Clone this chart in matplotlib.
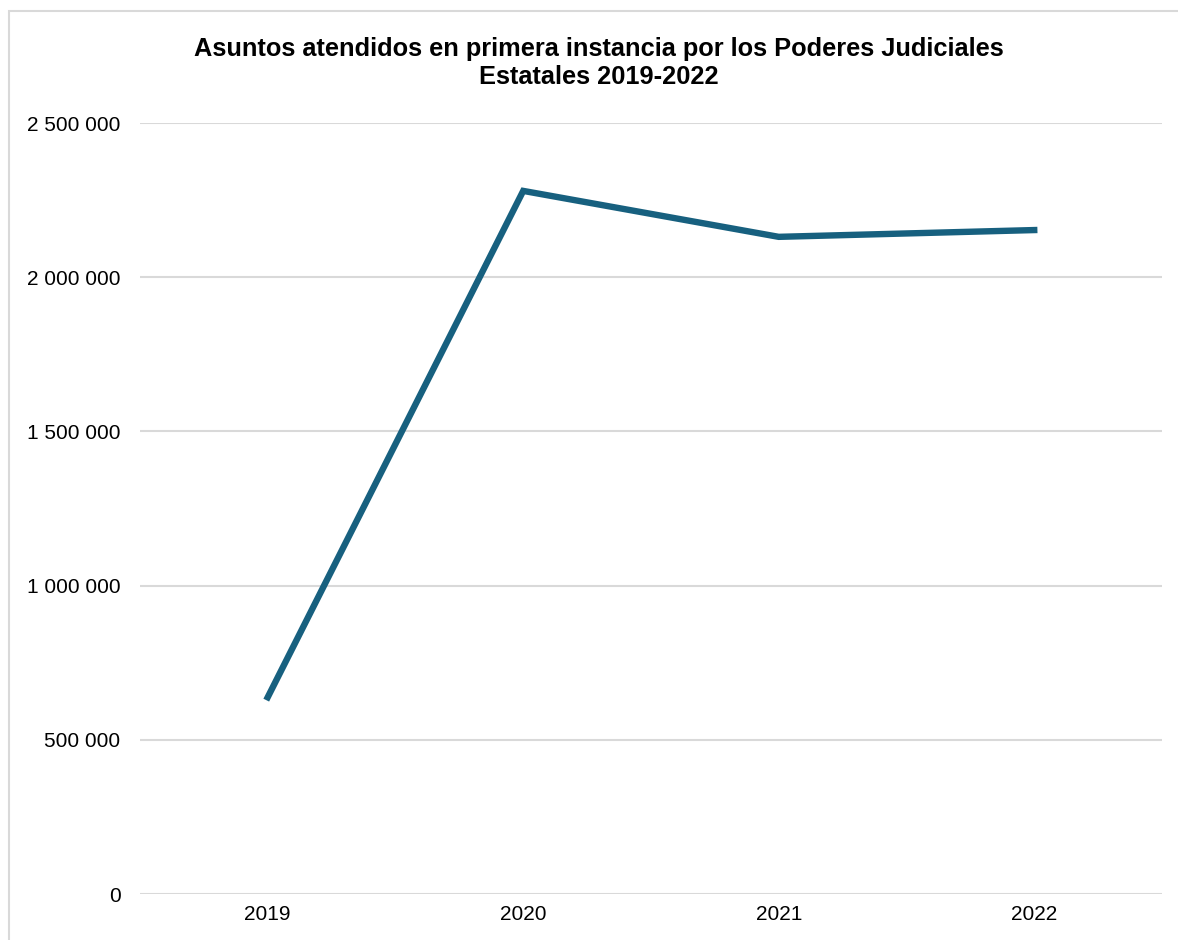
import matplotlib.pyplot as plt
from matplotlib.patches import Rectangle
from matplotlib.ticker import FuncFormatter

plt.rcParams['font.family'] = ['Liberation Sans', 'DejaVu Sans']

years = ['2019', '2020', '2021', '2022']
asuntos = [638000, 2280000, 2131000, 2153000]
yticks = [0, 500000, 1000000, 1500000, 2000000, 2500000]

fig = plt.figure(figsize=(11.78, 9.4), dpi=100)
ax = fig.add_axes([0.1188, 0.0489, 0.8676, 0.8202])

ax.plot(range(len(years)), asuntos, color='#17607f', lw=4.6,
        solid_joinstyle='miter', zorder=3)

ax.set_xlim(-0.5, 3.5)
ax.set_ylim(0, 2500000)
ax.set_xticks(range(len(years)))
ax.set_xticklabels(years)
ax.set_yticks(yticks)
ax.yaxis.set_major_formatter(FuncFormatter(lambda v, p: f"{int(v):,}".replace(',', ' ')))
ax.grid(axis='y', color='#d9d9d9', lw=1.5)
ax.set_axisbelow(True)
for s in ax.spines.values():
    s.set_visible(False)
ax.tick_params(length=0, labelsize=15, colors='black')
ax.tick_params(axis='y', pad=14)
ax.tick_params(axis='x', pad=8)

fig.text(0.5085, 0.933, 'Asuntos atendidos en primera instancia por los Poderes Judiciales\nEstatales 2019-2022',
         ha='center', va='center', fontsize=18.3, fontweight='bold', linespacing=1.2)

# marco exterior del grafico
fig.patches.append(Rectangle((9 / 1178, -0.1), 1.2, 1.1 - 11 / 940, transform=fig.transFigure,
                             fill=False, edgecolor='#d9d9d9', lw=1.5, clip_on=False))

fig.savefig('out.png', dpi=100)
